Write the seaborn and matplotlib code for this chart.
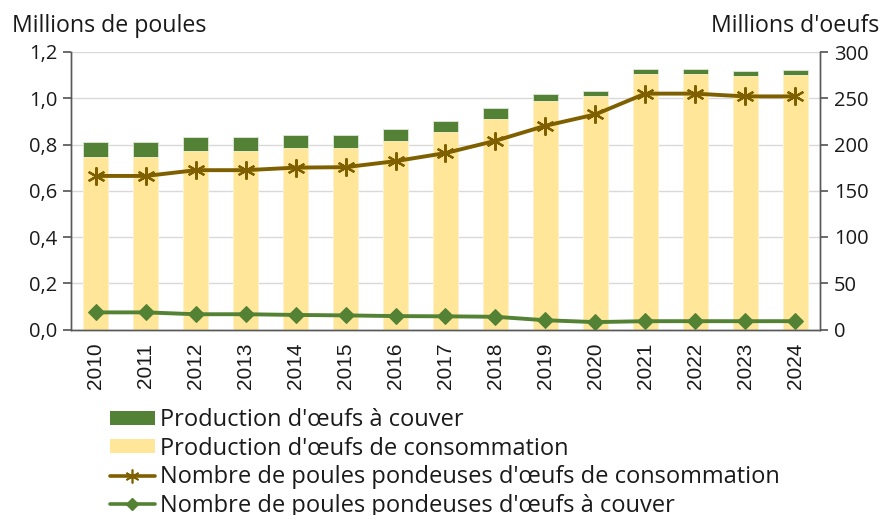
import matplotlib
matplotlib.use('Agg')
import matplotlib.pyplot as plt
from matplotlib.ticker import FuncFormatter, FixedLocator
from matplotlib.patches import Patch
from matplotlib.lines import Line2D
import seaborn as sns
import pandas as pd
import numpy as np

# Data
years = [str(y) for y in range(2010, 2025)]
oeufs_consommation = [186, 186, 193, 193, 196, 196.5, 204, 213, 228, 246.5, 252, 276.5, 276.5, 274.5, 275.5]
oeufs_couver = [16.5, 16.5, 15.3, 15.3, 14.8, 13.5, 13, 12.8, 11.8, 8.3, 5.5, 5.3, 5.3, 5.3, 5.3]
poules_consommation = [0.664, 0.664, 0.689, 0.689, 0.700, 0.702, 0.728, 0.763, 0.816, 0.881, 0.930, 1.020, 1.020, 1.008, 1.008]
poules_couver = [0.074, 0.074, 0.066, 0.066, 0.063, 0.061, 0.058, 0.057, 0.055, 0.040, 0.032, 0.036, 0.036, 0.036, 0.036]

GREEN_BAR = '#538135'
YELLOW_BAR = '#FFE699'
BROWN_LINE = '#7F6000'
GREEN_LINE = '#548235'
AXIS_COL = '#595959'
TEXT_COL = '#1a1a1a'

sns.set_theme(style="white")
plt.rcParams['font.family'] = ['Open Sans', 'DejaVu Sans']
plt.rcParams['text.color'] = TEXT_COL

df = pd.DataFrame({
    'annee': years,
    'consommation': oeufs_consommation,
    'couver': oeufs_couver,
    'poules_conso': poules_consommation,
    'poules_couver': poules_couver,
})
df['total'] = df['consommation'] + df['couver']

fig = plt.figure(figsize=(8.94, 5.15), dpi=100)
# eggs axis (bars), drawn underneath, ticks on the right
ax = fig.add_axes([71 / 894, 1 - 329.5 / 515, (820 - 71) / 894, (329.5 - 52) / 515])

sns.barplot(data=df, x='annee', y='total', color=GREEN_BAR, width=0.5,
            saturation=1, edgecolor='#dfe8d5', linewidth=0.6, ax=ax)
sns.barplot(data=df, x='annee', y='consommation', color=YELLOW_BAR, width=0.5,
            saturation=1, edgecolor='#fff4d0', linewidth=0.6, ax=ax)

ax.set_ylim(0, 300)
ax.set_xlim(-0.5, len(years) - 0.5)
ax.yaxis.set_major_locator(FixedLocator(np.arange(0, 301, 50)))
ax.yaxis.tick_right()
ax.set_axisbelow(True)
ax.grid(axis='y', color='#d9d9d9', linewidth=1)
ax.set_xlabel('')
ax.set_ylabel('')

# hens axis (lines), ticks on the left
ax2 = ax.twinx()
ax2.yaxis.tick_left()
sns.lineplot(data=df, x='annee', y='poules_conso', color=BROWN_LINE, linewidth=2.8,
             marker=(6, 2, 0), markersize=13, markeredgewidth=1.6,
             markeredgecolor=BROWN_LINE, ax=ax2)
sns.lineplot(data=df, x='annee', y='poules_couver', color=GREEN_LINE, linewidth=2.8,
             marker='D', markersize=8.5, markeredgecolor=GREEN_LINE, ax=ax2)
ax2.set_ylim(0, 1.2)
ax2.yaxis.set_major_locator(FixedLocator(np.arange(0, 1.21, 0.2)))
ax2.yaxis.set_major_formatter(FuncFormatter(lambda v, p: f"{v:.1f}".replace('.', ',')))
ax2.set_ylabel('')
ax2.set_xlabel('')

# x ticks: labels at categories, tick marks at boundaries
ax.set_xticks(range(len(years)))
ax.set_xticklabels(years, rotation=90, fontsize=15, fontfamily='Liberation Sans', color=TEXT_COL)
ax.tick_params(axis='x', length=0, pad=9.5)
ax.set_xticks(np.arange(-0.5, len(years), 1), minor=True)
ax.tick_params(axis='x', which='minor', length=6, color=AXIS_COL, width=1, direction='out')
ax2.tick_params(axis='x', which='both', length=0, labelbottom=False)

for a in (ax, ax2):
    a.spines['top'].set_visible(False)
    for s in ('left', 'right', 'bottom'):
        a.spines[s].set_color(AXIS_COL)
        a.spines[s].set_linewidth(1)
for a in (ax, ax2):
    a.tick_params(axis='y', length=6, color=AXIS_COL, labelsize=14.5,
                  labelcolor=TEXT_COL, direction='out', pad=4)
ax.tick_params(axis='y', left=False, right=True, labelleft=False, labelright=True)
ax2.tick_params(axis='y', left=True, right=False, labelleft=True, labelright=False)

fig.text(12 / 894, 1 - 32 / 515, 'Millions de poules', fontsize=16.7, va='baseline', ha='left')
fig.text(879 / 894, 1 - 32 / 515, "Millions d'oeufs", fontsize=16.7, va='baseline', ha='right')

handles = [
    Patch(facecolor=GREEN_BAR, edgecolor='none'),
    Patch(facecolor=YELLOW_BAR, edgecolor='none'),
    Line2D([], [], color=BROWN_LINE, linewidth=2.6, marker=(6, 2, 0), markersize=10,
           markeredgewidth=1.2, markeredgecolor=BROWN_LINE),
    Line2D([], [], color=GREEN_LINE, linewidth=2.6, marker='D', markersize=6.5),
]
labels = [
    "Production d'œufs à couver",
    "Production d'œufs de consommation",
    "Nombre de poules pondeuses d'œufs de consommation",
    "Nombre de poules pondeuses d'œufs à couver",
]
fig.legend(handles, labels, loc='upper left', bbox_to_anchor=(110 / 894, 1 - 408 / 515),
           frameon=False, fontsize=17, handlelength=1.9, handleheight=0.55,
           handletextpad=0.22, labelspacing=0.2, borderaxespad=0, borderpad=0)

fig.savefig('out.png', dpi=100)
plt.close(fig)
